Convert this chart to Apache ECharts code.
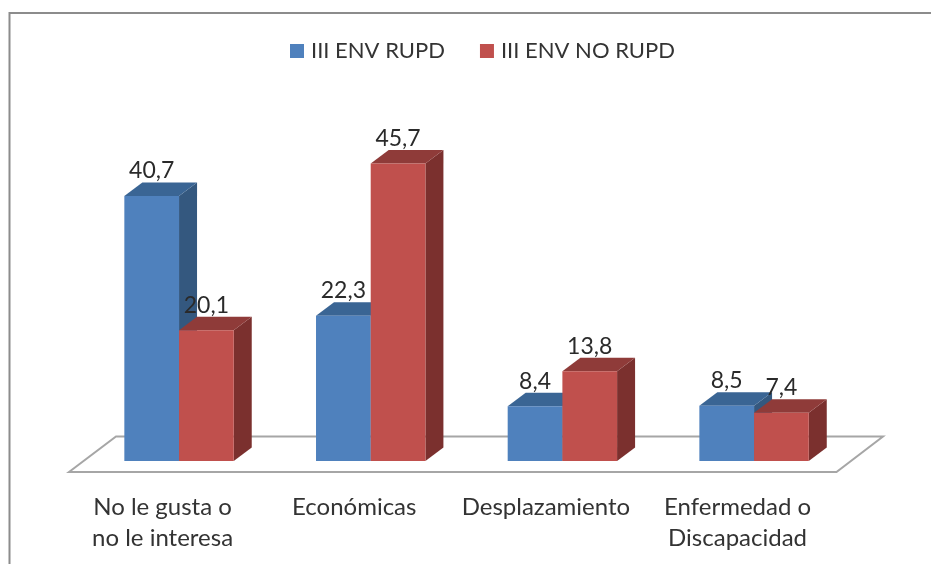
<!DOCTYPE html>
<html><head><meta charset="utf-8">
<style>html,body{margin:0;padding:0;background:#fff}#c{width:931px;height:564px}</style>
<script src="https://cdn.jsdelivr.net/npm/echarts@6/dist/echarts.min.js"></script>
</head><body><div id="c"></div>
<script>
const categories = ['No le gusta o\nno le interesa', 'Económicas', 'Desplazamiento', 'Enfermedad o\nDiscapacidad'];
const serieRupd = [40.7, 22.3, 8.4, 8.5];
const serieNoRupd = [20.1, 45.7, 13.8, 7.4];
const FONT = 'Lato';
const chart = echarts.init(document.getElementById('c'), null, {renderer: 'canvas'});
function bar3d(offsetSign, front, top, side) {
  return function (params, api) {
    const i = api.value(0), v = api.value(1);
    const base = api.coord([i, 0]), head = api.coord([i, v]);
    const w = 54.7, dx = 18, dy = 13.5;
    const x0 = offsetSign < 0 ? base[0] - w : base[0], x1 = x0 + w;
    const yt = head[1], yb = base[1];
    return {type: 'group', children: [
      {type: 'polygon', shape: {points: [[x1, yt], [x1 + dx, yt - dy], [x1 + dx, yb - dy], [x1, yb]]}, style: {fill: side}},
      {type: 'polygon', shape: {points: [[x0, yt], [x0 + dx, yt - dy], [x1 + dx, yt - dy], [x1, yt]]}, style: {fill: top}},
      {type: 'rect', shape: {x: x0, y: yt, width: w, height: yb - yt}, style: {fill: front}},
      {type: 'text', z2: 50, style: {text: String(v).replace('.', ','), x: (x0 + x1) / 2, y: yt - 25, align: 'center', verticalAlign: 'middle', font: '23px ' + FONT, fill: '#2a2a2a'}}
    ]};
  };
}
chart.setOption({
  animation: false,
  backgroundColor: '#fff',
  legend: {
    top: 35, left: 285, itemWidth: 14, itemHeight: 14, itemGap: 35,
    textStyle: {fontFamily: FONT, fontSize: 22, color: '#333', padding: [0, 0, 0, 2]},
    data: [{name: 'III ENV RUPD', icon: 'rect'}, {name: 'III ENV NO RUPD', icon: 'rect'}]
  },
  grid: {left: 83.2, width: 766.7, top: 135.5, height: 325.5},
  xAxis: {type: 'category', data: categories, axisLine: {show: false}, axisTick: {show: false},
    axisLabel: {fontFamily: FONT, fontSize: 24, color: '#333', lineHeight: 31, margin: 31, interval: 0, padding: [0, 33, 0, 0]}},
  yAxis: {type: 'value', min: 0, max: 50, show: false},
  graphic: [
    {type: 'polyline', z: 0, shape: {points: [[9.5, 564], [9.5, 13], [931, 13]]}, style: {fill: null, stroke: '#8c8c8c', lineWidth: 2}},
    {type: 'polygon', z: 0, shape: {points: [[69, 472], [116, 436.5], [883, 436.5], [836.5, 472]]}, style: {fill: '#fff', stroke: '#a6a6a6', lineWidth: 2}}
  ],
  series: [
    {type: 'custom', name: 'III ENV RUPD', z: 5, itemStyle: {color: '#4F81BD'}, renderItem: bar3d(-1, '#4F81BD', '#3A6594', '#34587F'),
      encode: {x: 0, y: 1}, data: serieRupd.map((v, i) => [i, v])},
    {type: 'custom', name: 'III ENV NO RUPD', z: 6, itemStyle: {color: '#C0504D'}, renderItem: bar3d(1, '#C0504D', '#8F3B39', '#7B302E'),
      encode: {x: 0, y: 1}, data: serieNoRupd.map((v, i) => [i, v])}
  ]
});
</script></body></html>
